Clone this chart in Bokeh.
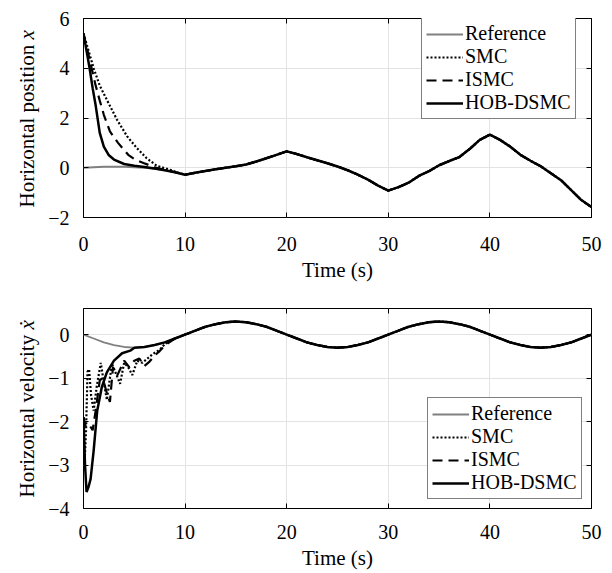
import numpy as np
from math import pi
from bokeh.plotting import figure
from bokeh.models import (FixedTicker, LinearAxis, Legend, LegendItem, Range1d,
                          CustomLabelingPolicy)
from bokeh.core.properties import value
from bokeh.layouts import column, row
from bokeh.embed import file_html
from bokeh.resources import INLINE

# ---------------- data ----------------
# Horizontal position x : reference trajectory
time_pos_ref = [0, 2, 4, 6, 7, 8, 9, 10, 11, 12, 13, 14, 15, 16, 17, 18, 19, 20,
                21, 22, 23, 24, 25, 26, 27, 28, 29, 30, 31, 32, 33, 34, 35, 36,
                37, 38, 39, 40, 41, 42, 43, 44, 45, 46, 47, 48, 49, 50]
pos_ref = [0.0, 0.04, 0.04, 0.0, -0.04, -0.1, -0.18, -0.28, -0.2, -0.13, -0.06,
           0.0, 0.06, 0.13, 0.25, 0.38, 0.52, 0.66, 0.55, 0.42, 0.3, 0.18, 0.05,
           -0.1, -0.28, -0.48, -0.72, -0.92, -0.78, -0.6, -0.33, -0.14, 0.1, 0.27,
           0.43, 0.75, 1.12, 1.33, 1.12, 0.85, 0.52, 0.28, 0.06, -0.22, -0.5,
           -0.9, -1.3, -1.58]

# transient parts of the controllers (afterwards they follow the reference)
time_pos_smc = [0, 0.5, 1.0, 1.6, 2.3, 3.3, 4.3, 5.25, 6.2, 7.2, 8.5, 9.2]
pos_smc = [5.4, 4.7, 4.0, 3.3, 2.73, 1.93, 1.26, 0.79, 0.39, 0.08, -0.08, -0.18]

time_pos_ismc = [0, 0.4, 0.8, 1.2, 1.6, 2.0, 2.6, 3.4, 4.4, 5.0, 5.9, 7.0, 8.0]
pos_ismc = [5.4, 4.7, 4.0, 3.3, 2.7, 2.13, 1.46, 1.0, 0.52, 0.35, 0.19, 0.02, -0.08]

time_pos_hob = [0, 0.3, 0.6, 0.9, 1.2, 1.6, 2.0, 2.5, 3.0, 4.0, 5.0, 6.0, 7.0, 8.0]
pos_hob = [5.4, 4.7, 4.0, 3.2, 2.5, 1.4, 0.85, 0.5, 0.33, 0.15, 0.08, 0.03, -0.03, -0.1]

# Horizontal velocity x-dot : reference
time_vel_ref = list(range(0, 51))
vel_ref = [0, -0.09, -0.18, -0.24, -0.285, -0.3, -0.285, -0.24, -0.18, -0.09,
           0, 0.09, 0.18, 0.24, 0.285, 0.3, 0.285, 0.24, 0.18, 0.09,
           0, -0.09, -0.18, -0.24, -0.285, -0.3, -0.285, -0.24, -0.18, -0.09,
           0, 0.09, 0.18, 0.24, 0.285, 0.3, 0.285, 0.24, 0.18, 0.09,
           0, -0.09, -0.18, -0.24, -0.285, -0.3, -0.285, -0.24, -0.18, -0.09, 0]

time_vel_smc = [0, 0.12, 0.25, 0.4, 0.55, 0.75, 1.0, 1.3, 1.7, 2.0, 2.3, 2.8, 3.2,
                3.6, 4.0, 4.4, 4.8, 5.3, 5.8, 6.3, 6.8, 7.5, 8.0]
vel_smc = [-1.9, -2.9, -2.2, -0.85, -0.8, -1.4, -1.75, -1.2, -0.65, -1.1, -1.5,
           -0.67, -0.9, -1.13, -0.65, -0.75, -0.93, -0.6, -0.65, -0.55, -0.45,
           -0.35, -0.22]

time_vel_ismc = [0, 0.2, 0.5, 0.9, 1.2, 1.6, 1.9, 2.3, 2.6, 2.9, 3.3, 3.7, 4.0,
                 4.5, 5.0, 5.5, 6.0, 6.5, 7.0, 7.5, 8.0]
vel_ismc = [-1.9, -2.1, -2.05, -2.2, -1.75, -1.05, -1.0, -1.35, -1.55, -0.75,
            -0.95, -0.75, -0.6, -0.75, -0.6, -0.55, -0.72, -0.62, -0.48, -0.38,
            -0.25]

time_vel_hob = [0, 0.15, 0.3, 0.5, 0.7, 1.0, 1.35, 1.8, 2.3, 3.0, 3.8, 4.6]
vel_hob = [-1.9, -3.0, -3.62, -3.5, -3.32, -2.67, -1.75, -1.21, -0.87, -0.6,
           -0.43, -0.37]

x_ticks = [0, 10, 20, 30, 40, 50]
pos_ticks = [-2, 0, 2, 4, 6]
vel_ticks = [-4, -3, -2, -1, 0]

series_names = ["Reference", "SMC", "ISMC", "HOB-DSMC"]
pos_label = ["Horizontal position ", "x"]
vel_label = ["Horizontal velocity ", "\u1e8b"]

FONT = "Liberation Serif"
GRID = "#e3e3e3"
LAB_W = 43          # width of the strip that carries the y-axis title


def join(t_tr, y_tr, t_ref, y_ref):
    t_tr = np.asarray(t_tr, float)
    y_tr = np.asarray(y_tr, float)
    t_ref = np.asarray(t_ref, float)
    y_ref = np.asarray(y_ref, float)
    m = t_ref > t_tr[-1]
    return np.concatenate([t_tr, t_ref[m]]), np.concatenate([y_tr, y_ref[m]])


def overrides(ticks):
    return {t: (("\u2212" + str(-t)) if t < 0 else str(t)) for t in ticks}


def label_strip(height, btop, bbottom, texts, y_start, main_len):
    """Narrow figure holding the rotated y-axis title (pixel coordinates
    measured upward from the bottom of the plotting frame)."""
    frame_h = height - btop - bbottom
    q = figure(width=LAB_W, height=height, x_range=Range1d(0, LAB_W),
               y_range=Range1d(0, frame_h), output_backend="svg",
               toolbar_location=None, min_border_left=0, min_border_right=0,
               min_border_top=btop, min_border_bottom=bbottom,
               x_axis_location=None, y_axis_location=None)
    q.grid.visible = False
    q.outline_line_color = None
    q.background_fill_color = "white"
    q.border_fill_color = "white"
    q.text(x=[26], y=[y_start], text=[texts[0]], angle=pi / 2,
           text_align="left", text_baseline="middle",
           text_font=value(FONT), text_font_size="21px", text_color="black")
    q.text(x=[26], y=[y_start + main_len], text=[texts[1]], angle=pi / 2,
           text_align="left", text_baseline="middle",
           text_font=value(FONT), text_font_style="italic",
           text_font_size="21px", text_color="black")
    return q


def make_fig(height, btop, bbottom, yrange, yticks, t_ref, y_ref, tr_list,
             legend_loc, tick_standoff):
    p = figure(width=612 - LAB_W, height=height, x_range=Range1d(0, 50),
               y_range=Range1d(*yrange), output_backend="svg",
               toolbar_location=None, min_border_left=83 - LAB_W,
               min_border_right=21, min_border_top=btop,
               min_border_bottom=bbottom)
    p.outline_line_color = "black"
    p.outline_line_width = 1
    p.background_fill_color = "white"
    p.border_fill_color = "white"

    for ax, ticks in ((p.xaxis[0], x_ticks), (p.yaxis[0], yticks)):
        ax.ticker = FixedTicker(ticks=ticks)
        ax.major_label_overrides = overrides(ticks)
        ax.major_tick_in = 5
        ax.major_tick_out = 0
        ax.minor_tick_in = 0
        ax.minor_tick_out = 0
        ax.major_tick_line_color = "black"
        ax.axis_line_color = None
        ax.major_label_text_font = FONT
        ax.major_label_text_font_size = "20px"
        ax.major_label_text_color = "black"
        ax.major_label_standoff = 14
    p.xaxis[0].major_label_standoff = tick_standoff
    p.xaxis[0].axis_label = "Time (s)"
    p.xaxis[0].axis_label_text_font = FONT
    p.xaxis[0].axis_label_text_font_size = "21px"
    p.xaxis[0].axis_label_text_font_style = "normal"
    p.xaxis[0].axis_label_text_color = "black"
    p.xaxis[0].axis_label_standoff = 4

    # tick marks only (no labels) on the top and right edges
    hide_all = CustomLabelingPolicy(
        code="for (const i of indices) { indices.unset(i) }\nreturn indices")
    for side, ticks in (("above", x_ticks), ("right", yticks)):
        ax = LinearAxis(ticker=FixedTicker(ticks=ticks),
                        major_label_text_font_size="0px",
                        major_label_policy=hide_all,
                        major_label_standoff=0, major_tick_in=5,
                        major_tick_out=0, minor_tick_in=0, minor_tick_out=0,
                        axis_line_color=None)
        p.add_layout(ax, side)

    p.xgrid.grid_line_color = GRID
    p.ygrid.grid_line_color = GRID
    p.xgrid.ticker = FixedTicker(ticks=x_ticks)
    p.ygrid.ticker = FixedTicker(ticks=yticks)

    r_ref = p.line(t_ref, y_ref, line_color="#808080", line_width=1.8)
    styles = [dict(line_dash="2 2", line_width=2.2),
              dict(line_dash="10 6", line_width=2.2),
              dict(line_dash="solid", line_width=2.5)]
    rends = [r_ref]
    for (tt, yy), st in zip(tr_list, styles):
        t, y = join(tt, yy, t_ref, y_ref)
        rends.append(p.line(t, y, line_color="black", **st))

    items = [LegendItem(label=n, renderers=[r]) for n, r in zip(series_names, rends)]
    leg = Legend(items=items, location=legend_loc, label_text_font=FONT,
                 label_text_font_size="20px", label_text_color="black",
                 glyph_width=37, glyph_height=18, label_height=18,
                 label_standoff=2, padding=4, spacing=0, margin=0,
                 border_line_color="black", border_line_width=1,
                 background_fill_color="white", background_fill_alpha=1)
    p.add_layout(leg)
    return p


p1 = make_fig(286, 18, 69, (-2, 6), pos_ticks, time_pos_ref, pos_ref,
              [(time_pos_smc, pos_smc), (time_pos_ismc, pos_ismc),
               (time_pos_hob, pos_hob)], (338, 98), 19)
p2 = make_fig(287, 22, 65, (-4, 0.6), vel_ticks, time_vel_ref, vel_ref,
              [(time_vel_smc, vel_smc), (time_vel_ismc, vel_ismc),
               (time_vel_hob, vel_hob)], (344, 9), 16)
l1 = label_strip(286, 18, 69, pos_label, 10, 168)
l2 = label_strip(287, 22, 65, vel_label, 11, 168)

layout = column(row(l1, p1, spacing=0), row(l2, p2, spacing=0), spacing=0)
open("out.html", "w").write(file_html(layout, INLINE))
